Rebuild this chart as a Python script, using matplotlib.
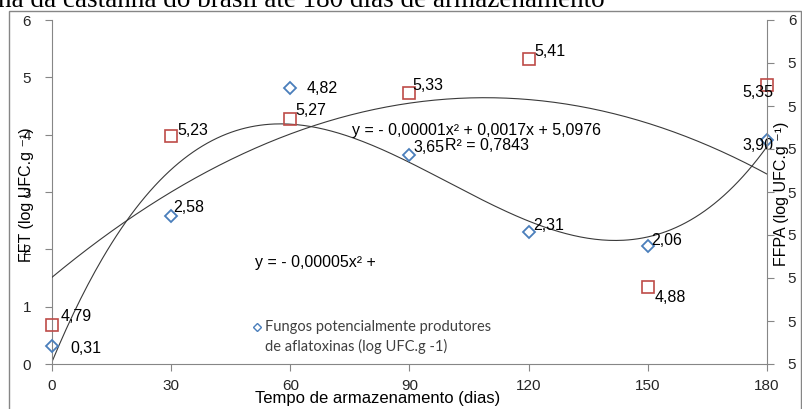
import numpy as np
import matplotlib.pyplot as plt
from matplotlib.lines import Line2D
from matplotlib.patches import Rectangle

# dados
dias = [0, 30, 60, 90, 120, 150, 180]
ffpa = [0.31, 2.58, 4.82, 3.65, 2.31, 2.06, 3.90]   # eixo esquerdo (losangos azuis)
fft = [4.79, 5.23, 5.27, 5.33, 5.41, 4.88, 5.35]    # eixo direito (quadrados vermelhos)
ffpa_rot = ["0,31", "2,58", "4,82", "3,65", "2,31", "2,06", "3,90"]
fft_rot = ["4,79", "5,23", "5,27", "5,33", "5,41", "4,88", "5,35"]

x_ticks = [0, 30, 60, 90, 120, 150, 180]
y_esq_ticks = [0, 1, 2, 3, 4, 5, 6]
y_dir_ticks = [4.7, 4.8, 4.9, 5.0, 5.1, 5.2, 5.3, 5.4, 5.5]
y_dir_labels = ["5", "5", "5", "5", "5", "5", "5", "5", "6"]

titulo = "na da castanha do brasil até 180 dias de armazenamento"
eq_fft = "y = - 0,00001x² + 0,0017x + 5,0976"
r2_fft = "R² = 0,7843"
eq_ffpa = "y = - 0,00005x² +"
legenda = "Fungos potencialmente produtores\nde aflatoxinas (log UFC.g -1)"

# deslocamento dos rótulos (pixels) e alinhamento
desl_ffpa = [(18, -2, "left"), (2, 9, "left"), (16, -1, "left"), (4, 7, "left"),
             (5, 6, "left"), (3, 5, "left"), (6, -5, "right")]
desl_fft = [(9, 9, "left"), (6, 6, "left"), (5, 8, "left"), (3, 8, "left"),
            (6, 7, "left"), (7, -11, "left"), (6, -8, "right")]

W, H = 803, 409
AZUL = "#4A7EBB"
VERM = "#BE4B48"
CINZA = "#868686"
FONTE = ["Liberation Sans", "DejaVu Sans"]


def px(x, y):
    """Pixel da imagem -> fração da figura."""
    return x / W, 1 - y / H


fig = plt.figure(figsize=(W / 100, H / 100), dpi=100)
plt.rcParams["font.family"] = FONTE

# moldura do gráfico
fig.add_artist(Rectangle(px(9, 420), 792 / W, 409 / H, transform=fig.transFigure,
                         fill=False, edgecolor=CINZA, linewidth=1.0))

# título (cortado no topo, como na imagem original)
fig.text(*px(-2, 7), titulo, family="Liberation Serif", fontsize=19.5,
         ha="left", va="baseline")

x0, y0 = px(52, 364)
ax = fig.add_axes([x0, y0, 715 / W, 344 / H])
ax2 = ax.twinx()

xs = np.linspace(0, 180, 300)
curva1 = np.polyval(np.polyfit(dias, ffpa, 3), xs)
curva2 = np.polyval(np.polyfit(dias, fft, 2), xs)
ax.plot(xs, curva1, color="#3a3a3a", linewidth=0.8, zorder=2)
ax2.plot(xs, curva2, color="#3a3a3a", linewidth=0.8, zorder=2)

ax.plot(dias, ffpa, linestyle="none", marker="D", markersize=6,
        markerfacecolor="none", markeredgecolor=AZUL, markeredgewidth=1.3,
        clip_on=False, zorder=3)
ax2.plot(dias, fft, linestyle="none", marker="s", markersize=8,
         markerfacecolor="none", markeredgecolor=VERM, markeredgewidth=1.2,
         clip_on=False, zorder=3)

for d, v, t, (dx, dy, ha) in zip(dias, ffpa, ffpa_rot, desl_ffpa):
    ax.annotate(t, (d, v), xytext=(dx, dy), textcoords="offset pixels",
                ha=ha, va="center", fontsize=11.5, annotation_clip=False)
for d, v, t, (dx, dy, ha) in zip(dias, fft, fft_rot, desl_fft):
    ax2.annotate(t, (d, v), xytext=(dx, dy), textcoords="offset pixels",
                 ha=ha, va="center", fontsize=11.5, annotation_clip=False)

ax.set_xlim(0, 180)
ax.set_ylim(0, 6)
ax2.set_ylim(4.7, 5.5)
ax.set_xticks(x_ticks)
ax.set_yticks(y_esq_ticks)
ax2.set_yticks(y_dir_ticks)
ax2.set_yticklabels(y_dir_labels)

for a in (ax, ax2):
    for s in a.spines.values():
        s.set_visible(False)
    a.tick_params(colors=CINZA, labelcolor="#262626", labelsize=11,
                  length=5, width=0.8, direction="out")
ax.spines["left"].set_visible(True)
ax.spines["bottom"].set_visible(True)
ax2.spines["right"].set_visible(True)
for s in (ax.spines["left"], ax.spines["bottom"], ax2.spines["right"]):
    s.set_color(CINZA)
    s.set_linewidth(0.8)
ax.tick_params(axis="y", pad=10)
ax.tick_params(axis="x", pad=6)
ax2.tick_params(axis="y", pad=10)

fig.text(*px(378, 398), "Tempo de armazenamento (dias)", fontsize=12,
         ha="center", va="center")
fig.text(*px(27, 195), "FFT (log UFC.g ⁻¹)", fontsize=11.5, rotation=90,
         ha="center", va="center")
fig.text(*px(782, 194), "FFPA (log UFC.g ⁻¹)", fontsize=11.5, rotation=90,
         ha="center", va="center")

fig.text(*px(352, 130), eq_fft, fontsize=11.5, ha="left", va="center")
fig.text(*px(445, 145), r2_fft, fontsize=11.5, ha="left", va="center")
fig.text(*px(255, 263), eq_ffpa, fontsize=11.5, ha="left", va="center")

# legenda
fig.add_artist(Line2D([257 / W], [1 - 327 / H], marker="D", markersize=4.5,
                      markerfacecolor="none", markeredgecolor=AZUL,
                      markeredgewidth=1.0, transform=fig.transFigure))
fig.text(*px(265, 337), legenda, family=["Lato", "DejaVu Sans"], fontsize=10.5,
         color="#404040", ha="left", va="center", linespacing=1.45)

fig.savefig("out.png", dpi=100)
